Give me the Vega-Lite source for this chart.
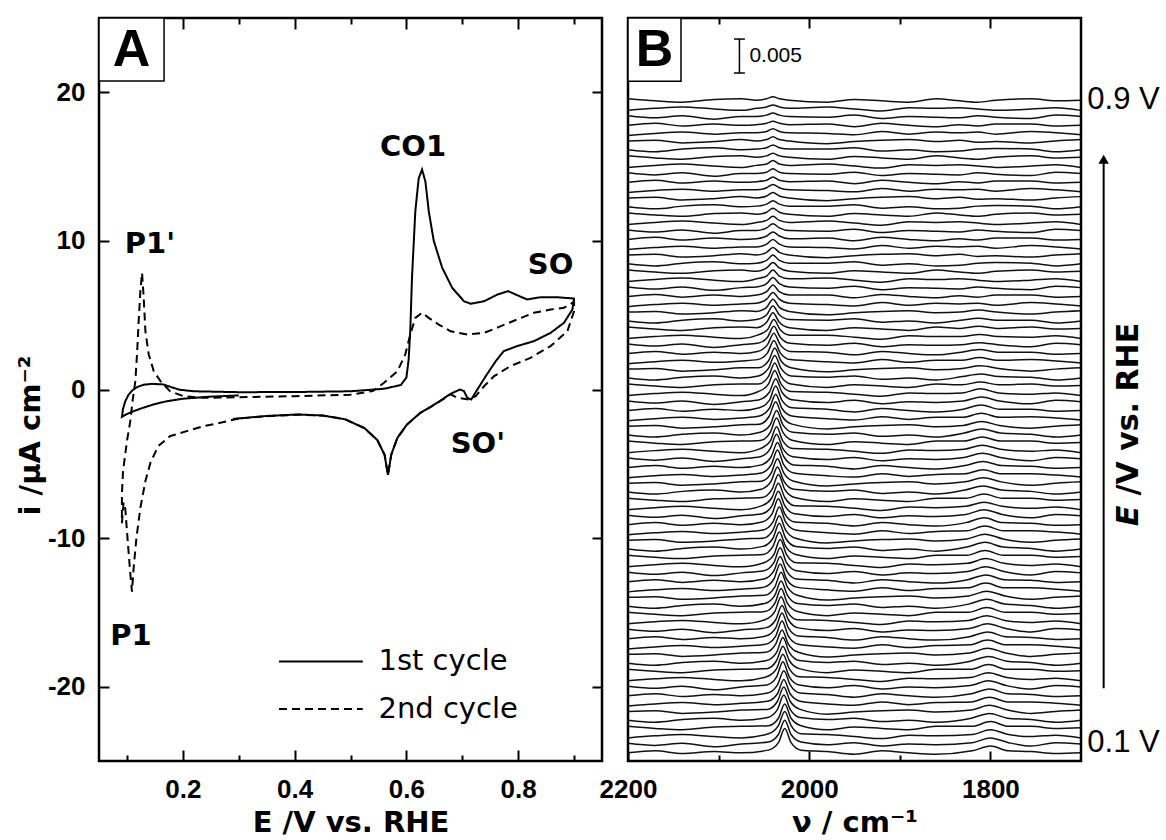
{
"$schema": "https://vega.github.io/schema/vega-lite/v6.json",
"background": "white",
"padding": {"left": 14, "top": 15, "right": 5, "bottom": 0},
"config": {
 "view": {"stroke": "black", "strokeWidth": 2.5},
 "axis": {"domain": false, "grid": false, "tickColor": "black", "tickWidth": 2, "labelColor": "black", "titleColor": "black", "labelFont": "Liberation Sans", "titleFont": "DejaVu Sans", "labelFontSize": 26, "labelFontWeight": "bold", "titleFontSize": 29, "titleFontWeight": "bold", "labelFlush": false, "labelOverlap": false},
 "text": {"font": "Liberation Sans", "color": "black"}
},
"spacing": 26,
"bounds": "flush",
"hconcat": [
{
 "width": 503, "height": 743,
 "resolve": {"axis": {"x": "independent", "y": "independent"}},
 "layer": [
 {
  "data": {"values": [
{"c":"1st cycle","o":1,"E":0.300,"i":-0.40},{"c":"1st cycle","o":2,"E":0.250,"i":-0.48},{"c":"1st cycle","o":3,"E":0.200,"i":-0.62},{"c":"1st cycle","o":4,"E":0.170,"i":-0.80},{"c":"1st cycle","o":5,"E":0.148,"i":-1.00},{"c":"1st cycle","o":6,"E":0.125,"i":-1.28},{"c":"1st cycle","o":7,"E":0.112,"i":-1.46},{"c":"1st cycle","o":8,"E":0.100,"i":-1.65},{"c":"1st cycle","o":9,"E":0.091,"i":-1.84},{"c":"1st cycle","o":10,"E":0.093,"i":-1.30},
{"c":"1st cycle","o":11,"E":0.097,"i":-0.79},{"c":"1st cycle","o":12,"E":0.103,"i":-0.34},{"c":"1st cycle","o":13,"E":0.110,"i":-0.05},{"c":"1st cycle","o":14,"E":0.118,"i":0.16},{"c":"1st cycle","o":15,"E":0.130,"i":0.32},{"c":"1st cycle","o":16,"E":0.145,"i":0.38},{"c":"1st cycle","o":17,"E":0.165,"i":0.34},{"c":"1st cycle","o":18,"E":0.180,"i":0.15},{"c":"1st cycle","o":19,"E":0.195,"i":-0.02},{"c":"1st cycle","o":20,"E":0.220,"i":-0.12},
{"c":"1st cycle","o":21,"E":0.300,"i":-0.18},{"c":"1st cycle","o":22,"E":0.400,"i":-0.17},{"c":"1st cycle","o":23,"E":0.500,"i":-0.12},{"c":"1st cycle","o":24,"E":0.560,"i":0.05},{"c":"1st cycle","o":25,"E":0.590,"i":0.30},{"c":"1st cycle","o":26,"E":0.600,"i":0.80},{"c":"1st cycle","o":27,"E":0.604,"i":2.00},{"c":"1st cycle","o":28,"E":0.607,"i":4.00},{"c":"1st cycle","o":29,"E":0.610,"i":7.50},{"c":"1st cycle","o":30,"E":0.616,"i":12.00},
{"c":"1st cycle","o":31,"E":0.622,"i":14.20},{"c":"1st cycle","o":32,"E":0.628,"i":14.80},{"c":"1st cycle","o":33,"E":0.634,"i":14.00},{"c":"1st cycle","o":34,"E":0.640,"i":12.00},{"c":"1st cycle","o":35,"E":0.649,"i":10.00},{"c":"1st cycle","o":36,"E":0.664,"i":8.20},{"c":"1st cycle","o":37,"E":0.682,"i":6.84},{"c":"1st cycle","o":38,"E":0.703,"i":5.94},{"c":"1st cycle","o":39,"E":0.715,"i":5.77},{"c":"1st cycle","o":40,"E":0.739,"i":5.94},
{"c":"1st cycle","o":41,"E":0.763,"i":6.39},{"c":"1st cycle","o":42,"E":0.782,"i":6.62},{"c":"1st cycle","o":43,"E":0.798,"i":6.35},{"c":"1st cycle","o":44,"E":0.816,"i":6.06},{"c":"1st cycle","o":45,"E":0.840,"i":6.21},{"c":"1st cycle","o":46,"E":0.870,"i":6.21},{"c":"1st cycle","o":47,"E":0.900,"i":6.12},{"c":"1st cycle","o":48,"E":0.897,"i":5.38},{"c":"1st cycle","o":49,"E":0.882,"i":4.49},{"c":"1st cycle","o":50,"E":0.858,"i":3.81},
{"c":"1st cycle","o":51,"E":0.828,"i":3.25},{"c":"1st cycle","o":52,"E":0.798,"i":2.92},{"c":"1st cycle","o":53,"E":0.774,"i":2.58},{"c":"1st cycle","o":54,"E":0.760,"i":1.91},{"c":"1st cycle","o":55,"E":0.742,"i":0.90},{"c":"1st cycle","o":56,"E":0.727,"i":0.00},{"c":"1st cycle","o":57,"E":0.716,"i":-0.67},{"c":"1st cycle","o":58,"E":0.709,"i":-0.56},{"c":"1st cycle","o":59,"E":0.703,"i":-0.11},{"c":"1st cycle","o":60,"E":0.696,"i":0.00},
{"c":"1st cycle","o":61,"E":0.679,"i":-0.29},{"c":"1st cycle","o":62,"E":0.655,"i":-0.90},{"c":"1st cycle","o":63,"E":0.625,"i":-1.57},{"c":"1st cycle","o":64,"E":0.601,"i":-2.36},{"c":"1st cycle","o":65,"E":0.584,"i":-3.25},{"c":"1st cycle","o":66,"E":0.573,"i":-4.37},{"c":"1st cycle","o":67,"E":0.567,"i":-5.75},{"c":"1st cycle","o":68,"E":0.561,"i":-4.40},{"c":"1st cycle","o":69,"E":0.548,"i":-3.40},{"c":"1st cycle","o":70,"E":0.525,"i":-2.60},
{"c":"1st cycle","o":71,"E":0.490,"i":-2.00},{"c":"1st cycle","o":72,"E":0.450,"i":-1.75},{"c":"1st cycle","o":73,"E":0.406,"i":-1.68},{"c":"1st cycle","o":74,"E":0.350,"i":-1.78},{"c":"1st cycle","o":75,"E":0.290,"i":-1.98},
{"c":"2nd cycle","o":1,"E":0.300,"i":-1.95},{"c":"2nd cycle","o":2,"E":0.267,"i":-2.24},{"c":"2nd cycle","o":3,"E":0.237,"i":-2.47},{"c":"2nd cycle","o":4,"E":0.207,"i":-2.80},{"c":"2nd cycle","o":5,"E":0.177,"i":-3.14},{"c":"2nd cycle","o":6,"E":0.156,"i":-3.81},{"c":"2nd cycle","o":7,"E":0.142,"i":-4.93},{"c":"2nd cycle","o":8,"E":0.133,"i":-6.17},{"c":"2nd cycle","o":9,"E":0.124,"i":-7.96},{"c":"2nd cycle","o":10,"E":0.117,"i":-9.98},
{"c":"2nd cycle","o":11,"E":0.112,"i":-12.00},{"c":"2nd cycle","o":12,"E":0.109,"i":-13.60},{"c":"2nd cycle","o":13,"E":0.106,"i":-12.40},{"c":"2nd cycle","o":14,"E":0.101,"i":-10.00},{"c":"2nd cycle","o":15,"E":0.097,"i":-8.00},{"c":"2nd cycle","o":16,"E":0.094,"i":-7.60},{"c":"2nd cycle","o":17,"E":0.091,"i":-9.00},{"c":"2nd cycle","o":18,"E":0.091,"i":-7.00},{"c":"2nd cycle","o":19,"E":0.093,"i":-5.50},{"c":"2nd cycle","o":20,"E":0.100,"i":-3.48},
{"c":"2nd cycle","o":21,"E":0.106,"i":-2.13},{"c":"2nd cycle","o":22,"E":0.110,"i":-0.79},{"c":"2nd cycle","o":23,"E":0.115,"i":0.56},{"c":"2nd cycle","o":24,"E":0.118,"i":2.36},{"c":"2nd cycle","o":25,"E":0.121,"i":4.60},{"c":"2nd cycle","o":26,"E":0.124,"i":6.60},{"c":"2nd cycle","o":27,"E":0.127,"i":7.85},{"c":"2nd cycle","o":28,"E":0.130,"i":6.17},{"c":"2nd cycle","o":29,"E":0.133,"i":3.92},{"c":"2nd cycle","o":30,"E":0.139,"i":2.36},
{"c":"2nd cycle","o":31,"E":0.148,"i":1.23},{"c":"2nd cycle","o":32,"E":0.160,"i":0.56},{"c":"2nd cycle","o":33,"E":0.177,"i":-0.11},{"c":"2nd cycle","o":34,"E":0.201,"i":-0.45},{"c":"2nd cycle","o":35,"E":0.237,"i":-0.56},{"c":"2nd cycle","o":36,"E":0.300,"i":-0.52},{"c":"2nd cycle","o":37,"E":0.400,"i":-0.45},{"c":"2nd cycle","o":38,"E":0.500,"i":-0.35},{"c":"2nd cycle","o":39,"E":0.540,"i":-0.10},{"c":"2nd cycle","o":40,"E":0.560,"i":0.45},
{"c":"2nd cycle","o":41,"E":0.584,"i":1.23},{"c":"2nd cycle","o":42,"E":0.598,"i":2.36},{"c":"2nd cycle","o":43,"E":0.607,"i":3.70},{"c":"2nd cycle","o":44,"E":0.616,"i":4.82},{"c":"2nd cycle","o":45,"E":0.628,"i":5.16},{"c":"2nd cycle","o":46,"E":0.640,"i":4.82},{"c":"2nd cycle","o":47,"E":0.658,"i":4.37},{"c":"2nd cycle","o":48,"E":0.679,"i":3.92},{"c":"2nd cycle","o":49,"E":0.709,"i":3.70},{"c":"2nd cycle","o":50,"E":0.739,"i":3.81},
{"c":"2nd cycle","o":51,"E":0.769,"i":4.26},{"c":"2nd cycle","o":52,"E":0.798,"i":4.71},{"c":"2nd cycle","o":53,"E":0.828,"i":5.16},{"c":"2nd cycle","o":54,"E":0.858,"i":5.38},{"c":"2nd cycle","o":55,"E":0.882,"i":5.50},{"c":"2nd cycle","o":56,"E":0.900,"i":5.90},{"c":"2nd cycle","o":57,"E":0.900,"i":5.27},{"c":"2nd cycle","o":58,"E":0.888,"i":3.92},{"c":"2nd cycle","o":59,"E":0.858,"i":2.92},{"c":"2nd cycle","o":60,"E":0.822,"i":2.13},
{"c":"2nd cycle","o":61,"E":0.786,"i":1.57},{"c":"2nd cycle","o":62,"E":0.757,"i":0.90},{"c":"2nd cycle","o":63,"E":0.739,"i":0.22},{"c":"2nd cycle","o":64,"E":0.724,"i":-0.45},{"c":"2nd cycle","o":65,"E":0.712,"i":-0.67},{"c":"2nd cycle","o":66,"E":0.691,"i":-0.56},{"c":"2nd cycle","o":67,"E":0.679,"i":-0.32},{"c":"2nd cycle","o":68,"E":0.655,"i":-0.92},{"c":"2nd cycle","o":69,"E":0.625,"i":-1.57},{"c":"2nd cycle","o":70,"E":0.601,"i":-2.36},
{"c":"2nd cycle","o":71,"E":0.584,"i":-3.25},{"c":"2nd cycle","o":72,"E":0.573,"i":-4.37},{"c":"2nd cycle","o":73,"E":0.567,"i":-5.75},{"c":"2nd cycle","o":74,"E":0.561,"i":-4.40},{"c":"2nd cycle","o":75,"E":0.548,"i":-3.40},{"c":"2nd cycle","o":76,"E":0.525,"i":-2.60},{"c":"2nd cycle","o":77,"E":0.490,"i":-2.00},{"c":"2nd cycle","o":78,"E":0.450,"i":-1.75},{"c":"2nd cycle","o":79,"E":0.406,"i":-1.70},{"c":"2nd cycle","o":80,"E":0.350,"i":-1.80},{"c":"2nd cycle","o":81,"E":0.300,"i":-1.95}
  ]},
  "mark": {"type": "line", "color": "black", "strokeWidth": 2},
  "encoding": {
   "x": {"field": "E", "type": "quantitative", "scale": {"domain": [0.05, 0.95], "nice": false, "zero": false}, "axis": {"orient": "bottom", "values": [0.2, 0.4, 0.6, 0.8], "format": ".1f", "tickSize": -11, "labelPadding": 26, "title": "E  /V vs. RHE", "titlePadding": 6}},
   "y": {"field": "i", "type": "quantitative", "scale": {"domain": [-25, 25], "nice": false, "zero": false}, "axis": {"orient": "left", "values": [-20, -10, 0, 10, 20], "tickSize": -10, "labelPadding": 24, "labelExpr": "'' + datum.value", "title": "i /μA cm⁻²", "titleFontSize": 29, "titleX": -54, "titleY": 417}},
   "order": {"field": "o", "type": "quantitative"},
   "strokeDash": {"field": "c", "type": "nominal", "scale": {"domain": ["1st cycle", "2nd cycle"], "range": [[1, 0], [8, 5]]}, "legend": null}
  }
 },
 {
  "data": {"values": [{"t":"CO1","E":0.612,"i":16.3},{"t":"P1'","E":0.141,"i":9.76},{"t":"SO","E":0.858,"i":8.4},{"t":"SO'","E":0.728,"i":-3.67},{"t":"P1","E":0.107,"i":-16.6}]},
  "mark": {"type": "text", "font": "DejaVu Sans", "fontSize": 29, "fontWeight": "bold", "align": "center", "baseline": "middle"},
  "encoding": {
   "x": {"field": "E", "type": "quantitative", "scale": {"domain": [0.05, 0.95], "nice": false, "zero": false}, "axis": {"orient": "bottom", "values": [0.1, 0.3, 0.5, 0.7, 0.9], "tickSize": -6, "labels": false, "title": null}},
   "y": {"field": "i", "type": "quantitative", "scale": {"domain": [-25, 25], "nice": false, "zero": false}, "axis": {"orient": "right", "values": [-20, -10, 0, 10, 20], "tickSize": -10, "labels": false, "title": null}},
   "text": {"field": "t"}
  }
 },
 {
  "data": {"values": [{"c":"1st cycle","E":0.372,"E2":0.522,"i":-18.3},{"c":"2nd cycle","E":0.372,"E2":0.522,"i":-21.5}]},
  "mark": {"type": "rule", "color": "black", "strokeWidth": 2},
  "encoding": {
   "x": {"field": "E", "type": "quantitative", "scale": {"domain": [0.05, 0.95], "nice": false, "zero": false}, "axis": {"orient": "top", "values": [0.2, 0.4, 0.6, 0.8], "tickSize": -11, "labels": false, "title": null}},
   "x2": {"field": "E2"},
   "y": {"field": "i", "type": "quantitative", "scale": {"domain": [-25, 25], "nice": false, "zero": false}, "axis": null},
   "strokeDash": {"field": "c", "type": "nominal", "scale": {"domain": ["1st cycle", "2nd cycle"], "range": [[1, 0], [8, 5]]}, "legend": null}
  }
 },
 {
  "data": {"values": [{"c":"1st cycle","E":0.550,"i":-18.3},{"c":"2nd cycle","E":0.550,"i":-21.5}]},
  "mark": {"type": "text", "font": "DejaVu Sans", "fontSize": 29, "align": "left", "baseline": "middle"},
  "encoding": {
   "x": {"field": "E", "type": "quantitative", "scale": {"domain": [0.05, 0.95], "nice": false, "zero": false}, "axis": {"orient": "top", "values": [0.1, 0.3, 0.5, 0.7, 0.9], "tickSize": -6, "labels": false, "title": null}},
   "y": {"field": "i", "type": "quantitative", "scale": {"domain": [-25, 25], "nice": false, "zero": false}, "axis": null},
   "text": {"field": "c"}
  }
 },
 {
  "data": {"values": [{"E":0.05,"E2":0.1664,"i":25,"i2":20.76}]},
  "mark": {"type": "rect", "fill": "white", "stroke": "black", "strokeWidth": 1.5},
  "encoding": {
   "x": {"field": "E", "type": "quantitative", "scale": {"domain": [0.05, 0.95], "nice": false, "zero": false}, "axis": null},
   "x2": {"field": "E2"},
   "y": {"field": "i", "type": "quantitative", "scale": {"domain": [-25, 25], "nice": false, "zero": false}, "axis": null},
   "y2": {"field": "i2"}
  }
 },
 {
  "data": {"values": [{"t":"A","E":0.108,"i":22.88}]},
  "mark": {"type": "text", "fontSize": 52, "fontWeight": "bold", "align": "center", "baseline": "middle"},
  "encoding": {
   "x": {"field": "E", "type": "quantitative", "scale": {"domain": [0.05, 0.95], "nice": false, "zero": false}, "axis": null},
   "y": {"field": "i", "type": "quantitative", "scale": {"domain": [-25, 25], "nice": false, "zero": false}, "axis": null},
   "text": {"field": "t"}
  }
 }
 ]
},
{
 "width": 453, "height": 743,
 "resolve": {"axis": {"x": "independent", "y": "independent"}},
 "layer": [
 {
  "data": {"values": [
{"k":0,"w":2200,"a":0},{"k":0,"w":2170,"a":3},{"k":0,"w":2140,"a":-1},{"k":0,"w":2105,"a":2},{"k":0,"w":2075,"a":0},{"k":0,"w":2045,"a":4},{"k":0,"w":2034,"a":15},{"k":0,"w":2027,"a":36},{"k":0,"w":2020,"a":15},{"k":0,"w":2009,"a":4},{"k":0,"w":1980,"a":2},{"k":0,"w":1950,"a":-2},{"k":0,"w":1920,"a":3},{"k":0,"w":1890,"a":0},{"k":0,"w":1860,"a":-2},{"k":0,"w":1820,"a":3},{"k":0,"w":1800,"a":10},{"k":0,"w":1780,"a":3},{"k":0,"w":1755,"a":2},{"k":0,"w":1728,"a":-1},{"k":0,"w":1700,"a":0},
{"k":1,"w":2200,"a":14},{"k":1,"w":2170,"a":11},{"k":1,"w":2140,"a":14},{"k":1,"w":2105,"a":9},{"k":1,"w":2075,"a":13},{"k":1,"w":2045,"a":16},{"k":1,"w":2034,"a":27},{"k":1,"w":2027,"a":48},{"k":1,"w":2020,"a":27},{"k":1,"w":2009,"a":16},{"k":1,"w":1980,"a":12},{"k":1,"w":1950,"a":15},{"k":1,"w":1920,"a":10},{"k":1,"w":1890,"a":13},{"k":1,"w":1860,"a":12},{"k":1,"w":1820,"a":15},{"k":1,"w":1800,"a":22},{"k":1,"w":1780,"a":15},{"k":1,"w":1755,"a":10},{"k":1,"w":1728,"a":15},{"k":1,"w":1700,"a":13},
{"k":2,"w":2200,"a":22},{"k":2,"w":2170,"a":25},{"k":2,"w":2140,"a":27},{"k":2,"w":2105,"a":24},{"k":2,"w":2075,"a":22},{"k":2,"w":2045,"a":28},{"k":2,"w":2034,"a":40},{"k":2,"w":2027,"a":61},{"k":2,"w":2020,"a":40},{"k":2,"w":2009,"a":28},{"k":2,"w":1980,"a":27},{"k":2,"w":1950,"a":24},{"k":2,"w":1920,"a":21},{"k":2,"w":1890,"a":26},{"k":2,"w":1860,"a":25},{"k":2,"w":1820,"a":27},{"k":2,"w":1800,"a":34},{"k":2,"w":1780,"a":27},{"k":2,"w":1755,"a":24},{"k":2,"w":1728,"a":26},{"k":2,"w":1700,"a":22},
{"k":3,"w":2200,"a":39},{"k":3,"w":2170,"a":36},{"k":3,"w":2140,"a":34},{"k":3,"w":2105,"a":38},{"k":3,"w":2075,"a":39},{"k":3,"w":2045,"a":40},{"k":3,"w":2034,"a":51},{"k":3,"w":2027,"a":72},{"k":3,"w":2020,"a":51},{"k":3,"w":2009,"a":40},{"k":3,"w":1980,"a":34},{"k":3,"w":1950,"a":38},{"k":3,"w":1920,"a":36},{"k":3,"w":1890,"a":34},{"k":3,"w":1860,"a":39},{"k":3,"w":1820,"a":39},{"k":3,"w":1800,"a":46},{"k":3,"w":1780,"a":39},{"k":3,"w":1755,"a":39},{"k":3,"w":1728,"a":36},{"k":3,"w":1700,"a":37},
{"k":4,"w":2200,"a":48},{"k":4,"w":2170,"a":45},{"k":4,"w":2140,"a":49},{"k":4,"w":2105,"a":51},{"k":4,"w":2075,"a":48},{"k":4,"w":2046,"a":52},{"k":4,"w":2035,"a":64},{"k":4,"w":2028,"a":85},{"k":4,"w":2021,"a":64},{"k":4,"w":2010,"a":52},{"k":4,"w":1980,"a":49},{"k":4,"w":1950,"a":51},{"k":4,"w":1920,"a":46},{"k":4,"w":1890,"a":48},{"k":4,"w":1860,"a":45},{"k":4,"w":1821,"a":51},{"k":4,"w":1801,"a":58},{"k":4,"w":1781,"a":51},{"k":4,"w":1755,"a":49},{"k":4,"w":1728,"a":45},{"k":4,"w":1700,"a":48},
{"k":5,"w":2200,"a":61},{"k":5,"w":2170,"a":62},{"k":5,"w":2140,"a":58},{"k":5,"w":2105,"a":60},{"k":5,"w":2075,"a":63},{"k":5,"w":2046,"a":64},{"k":5,"w":2035,"a":76},{"k":5,"w":2028,"a":97},{"k":5,"w":2021,"a":76},{"k":5,"w":2010,"a":64},{"k":5,"w":1980,"a":57},{"k":5,"w":1950,"a":60},{"k":5,"w":1920,"a":62},{"k":5,"w":1890,"a":63},{"k":5,"w":1860,"a":60},{"k":5,"w":1821,"a":63},{"k":5,"w":1801,"a":70},{"k":5,"w":1781,"a":63},{"k":5,"w":1755,"a":58},{"k":5,"w":1728,"a":61},{"k":5,"w":1700,"a":63},
{"k":6,"w":2200,"a":69},{"k":6,"w":2170,"a":72},{"k":6,"w":2140,"a":74},{"k":6,"w":2105,"a":71},{"k":6,"w":2075,"a":73},{"k":6,"w":2046,"a":76},{"k":6,"w":2035,"a":87},{"k":6,"w":2028,"a":108},{"k":6,"w":2021,"a":87},{"k":6,"w":2010,"a":76},{"k":6,"w":1980,"a":72},{"k":6,"w":1950,"a":70},{"k":6,"w":1920,"a":75},{"k":6,"w":1890,"a":71},{"k":6,"w":1860,"a":74},{"k":6,"w":1821,"a":75},{"k":6,"w":1801,"a":82},{"k":6,"w":1781,"a":75},{"k":6,"w":1755,"a":75},{"k":6,"w":1728,"a":73},{"k":6,"w":1700,"a":70},
{"k":7,"w":2200,"a":84},{"k":7,"w":2170,"a":87},{"k":7,"w":2140,"a":83},{"k":7,"w":2105,"a":86},{"k":7,"w":2075,"a":84},{"k":7,"w":2046,"a":88},{"k":7,"w":2035,"a":100},{"k":7,"w":2028,"a":121},{"k":7,"w":2021,"a":100},{"k":7,"w":2010,"a":88},{"k":7,"w":1980,"a":86},{"k":7,"w":1950,"a":82},{"k":7,"w":1920,"a":87},{"k":7,"w":1890,"a":84},{"k":7,"w":1860,"a":82},{"k":7,"w":1821,"a":87},{"k":7,"w":1801,"a":94},{"k":7,"w":1781,"a":87},{"k":7,"w":1755,"a":86},{"k":7,"w":1728,"a":83},{"k":7,"w":1700,"a":84},
{"k":8,"w":2200,"a":98},{"k":8,"w":2170,"a":95},{"k":8,"w":2140,"a":98},{"k":8,"w":2105,"a":93},{"k":8,"w":2075,"a":97},{"k":8,"w":2047,"a":100},{"k":8,"w":2036,"a":112},{"k":8,"w":2029,"a":134},{"k":8,"w":2022,"a":112},{"k":8,"w":2011,"a":100},{"k":8,"w":1980,"a":96},{"k":8,"w":1950,"a":99},{"k":8,"w":1920,"a":94},{"k":8,"w":1890,"a":97},{"k":8,"w":1860,"a":96},{"k":8,"w":1822,"a":99},{"k":8,"w":1802,"a":106},{"k":8,"w":1782,"a":99},{"k":8,"w":1755,"a":94},{"k":8,"w":1728,"a":99},{"k":8,"w":1700,"a":97},
{"k":9,"w":2200,"a":106},{"k":9,"w":2170,"a":109},{"k":9,"w":2140,"a":111},{"k":9,"w":2105,"a":108},{"k":9,"w":2075,"a":106},{"k":9,"w":2047,"a":112},{"k":9,"w":2036,"a":124},{"k":9,"w":2029,"a":145},{"k":9,"w":2022,"a":124},{"k":9,"w":2011,"a":112},{"k":9,"w":1980,"a":111},{"k":9,"w":1950,"a":108},{"k":9,"w":1920,"a":105},{"k":9,"w":1890,"a":110},{"k":9,"w":1860,"a":109},{"k":9,"w":1822,"a":111},{"k":9,"w":1802,"a":118},{"k":9,"w":1782,"a":111},{"k":9,"w":1755,"a":108},{"k":9,"w":1728,"a":110},{"k":9,"w":1700,"a":106},
{"k":10,"w":2200,"a":123},{"k":10,"w":2170,"a":120},{"k":10,"w":2140,"a":118},{"k":10,"w":2105,"a":122},{"k":10,"w":2075,"a":123},{"k":10,"w":2047,"a":124},{"k":10,"w":2036,"a":136},{"k":10,"w":2029,"a":157},{"k":10,"w":2022,"a":136},{"k":10,"w":2011,"a":124},{"k":10,"w":1980,"a":118},{"k":10,"w":1950,"a":122},{"k":10,"w":1920,"a":120},{"k":10,"w":1890,"a":118},{"k":10,"w":1860,"a":123},{"k":10,"w":1822,"a":123},{"k":10,"w":1802,"a":130},{"k":10,"w":1782,"a":123},{"k":10,"w":1755,"a":123},{"k":10,"w":1728,"a":120},{"k":10,"w":1700,"a":121},
{"k":11,"w":2200,"a":132},{"k":11,"w":2170,"a":129},{"k":11,"w":2140,"a":133},{"k":11,"w":2105,"a":135},{"k":11,"w":2075,"a":132},{"k":11,"w":2047,"a":136},{"k":11,"w":2036,"a":148},{"k":11,"w":2029,"a":170},{"k":11,"w":2022,"a":148},{"k":11,"w":2011,"a":136},{"k":11,"w":1980,"a":133},{"k":11,"w":1950,"a":135},{"k":11,"w":1920,"a":130},{"k":11,"w":1890,"a":132},{"k":11,"w":1860,"a":129},{"k":11,"w":1822,"a":135},{"k":11,"w":1802,"a":142},{"k":11,"w":1782,"a":135},{"k":11,"w":1755,"a":133},{"k":11,"w":1728,"a":129},{"k":11,"w":1700,"a":132},
{"k":12,"w":2200,"a":145},{"k":12,"w":2170,"a":146},{"k":12,"w":2140,"a":142},{"k":12,"w":2105,"a":144},{"k":12,"w":2075,"a":147},{"k":12,"w":2048,"a":148},{"k":12,"w":2037,"a":160},{"k":12,"w":2030,"a":181},{"k":12,"w":2023,"a":160},{"k":12,"w":2012,"a":148},{"k":12,"w":1980,"a":141},{"k":12,"w":1950,"a":144},{"k":12,"w":1920,"a":146},{"k":12,"w":1890,"a":147},{"k":12,"w":1860,"a":144},{"k":12,"w":1823,"a":147},{"k":12,"w":1803,"a":154},{"k":12,"w":1783,"a":147},{"k":12,"w":1755,"a":142},{"k":12,"w":1728,"a":145},{"k":12,"w":1700,"a":147},
{"k":13,"w":2200,"a":153},{"k":13,"w":2170,"a":156},{"k":13,"w":2140,"a":158},{"k":13,"w":2105,"a":155},{"k":13,"w":2075,"a":157},{"k":13,"w":2048,"a":160},{"k":13,"w":2037,"a":172},{"k":13,"w":2030,"a":194},{"k":13,"w":2023,"a":172},{"k":13,"w":2012,"a":160},{"k":13,"w":1980,"a":156},{"k":13,"w":1950,"a":154},{"k":13,"w":1920,"a":159},{"k":13,"w":1890,"a":155},{"k":13,"w":1860,"a":158},{"k":13,"w":1823,"a":159},{"k":13,"w":1803,"a":166},{"k":13,"w":1783,"a":159},{"k":13,"w":1755,"a":159},{"k":13,"w":1728,"a":157},{"k":13,"w":1700,"a":154},
{"k":14,"w":2200,"a":168},{"k":14,"w":2170,"a":171},{"k":14,"w":2140,"a":167},{"k":14,"w":2105,"a":170},{"k":14,"w":2075,"a":168},{"k":14,"w":2048,"a":172},{"k":14,"w":2037,"a":184},{"k":14,"w":2030,"a":206},{"k":14,"w":2023,"a":184},{"k":14,"w":2012,"a":172},{"k":14,"w":1980,"a":170},{"k":14,"w":1950,"a":166},{"k":14,"w":1920,"a":171},{"k":14,"w":1890,"a":168},{"k":14,"w":1860,"a":166},{"k":14,"w":1823,"a":171},{"k":14,"w":1803,"a":178},{"k":14,"w":1783,"a":171},{"k":14,"w":1755,"a":170},{"k":14,"w":1728,"a":167},{"k":14,"w":1700,"a":168},
{"k":15,"w":2200,"a":182},{"k":15,"w":2170,"a":179},{"k":15,"w":2140,"a":182},{"k":15,"w":2105,"a":177},{"k":15,"w":2075,"a":181},{"k":15,"w":2048,"a":184},{"k":15,"w":2037,"a":196},{"k":15,"w":2030,"a":217},{"k":15,"w":2023,"a":196},{"k":15,"w":2012,"a":184},{"k":15,"w":1980,"a":180},{"k":15,"w":1950,"a":183},{"k":15,"w":1920,"a":178},{"k":15,"w":1890,"a":181},{"k":15,"w":1860,"a":180},{"k":15,"w":1823,"a":183},{"k":15,"w":1803,"a":190},{"k":15,"w":1783,"a":183},{"k":15,"w":1755,"a":178},{"k":15,"w":1728,"a":183},{"k":15,"w":1700,"a":181},
{"k":16,"w":2200,"a":190},{"k":16,"w":2170,"a":193},{"k":16,"w":2140,"a":195},{"k":16,"w":2105,"a":192},{"k":16,"w":2075,"a":190},{"k":16,"w":2049,"a":196},{"k":16,"w":2038,"a":208},{"k":16,"w":2031,"a":230},{"k":16,"w":2024,"a":208},{"k":16,"w":2013,"a":196},{"k":16,"w":1980,"a":195},{"k":16,"w":1950,"a":192},{"k":16,"w":1920,"a":189},{"k":16,"w":1890,"a":194},{"k":16,"w":1860,"a":193},{"k":16,"w":1824,"a":195},{"k":16,"w":1804,"a":202},{"k":16,"w":1784,"a":195},{"k":16,"w":1755,"a":192},{"k":16,"w":1728,"a":194},{"k":16,"w":1700,"a":190},
{"k":17,"w":2200,"a":207},{"k":17,"w":2170,"a":204},{"k":17,"w":2140,"a":202},{"k":17,"w":2105,"a":206},{"k":17,"w":2075,"a":207},{"k":17,"w":2049,"a":208},{"k":17,"w":2038,"a":220},{"k":17,"w":2031,"a":242},{"k":17,"w":2024,"a":220},{"k":17,"w":2013,"a":208},{"k":17,"w":1980,"a":202},{"k":17,"w":1950,"a":206},{"k":17,"w":1920,"a":204},{"k":17,"w":1890,"a":202},{"k":17,"w":1860,"a":207},{"k":17,"w":1824,"a":207},{"k":17,"w":1804,"a":214},{"k":17,"w":1784,"a":207},{"k":17,"w":1755,"a":207},{"k":17,"w":1728,"a":204},{"k":17,"w":1700,"a":205},
{"k":18,"w":2200,"a":216},{"k":18,"w":2170,"a":213},{"k":18,"w":2140,"a":217},{"k":18,"w":2105,"a":219},{"k":18,"w":2075,"a":216},{"k":18,"w":2049,"a":220},{"k":18,"w":2038,"a":232},{"k":18,"w":2031,"a":253},{"k":18,"w":2024,"a":232},{"k":18,"w":2013,"a":220},{"k":18,"w":1980,"a":217},{"k":18,"w":1950,"a":219},{"k":18,"w":1920,"a":214},{"k":18,"w":1890,"a":216},{"k":18,"w":1860,"a":213},{"k":18,"w":1824,"a":219},{"k":18,"w":1804,"a":226},{"k":18,"w":1784,"a":219},{"k":18,"w":1755,"a":217},{"k":18,"w":1728,"a":213},{"k":18,"w":1700,"a":216},
{"k":19,"w":2200,"a":229},{"k":19,"w":2170,"a":230},{"k":19,"w":2140,"a":226},{"k":19,"w":2105,"a":228},{"k":19,"w":2075,"a":231},{"k":19,"w":2049,"a":232},{"k":19,"w":2038,"a":244},{"k":19,"w":2031,"a":266},{"k":19,"w":2024,"a":244},{"k":19,"w":2013,"a":232},{"k":19,"w":1980,"a":225},{"k":19,"w":1950,"a":228},{"k":19,"w":1920,"a":230},{"k":19,"w":1890,"a":231},{"k":19,"w":1860,"a":228},{"k":19,"w":1824,"a":231},{"k":19,"w":1804,"a":238},{"k":19,"w":1784,"a":231},{"k":19,"w":1755,"a":226},{"k":19,"w":1728,"a":229},{"k":19,"w":1700,"a":231},
{"k":20,"w":2200,"a":237},{"k":20,"w":2170,"a":240},{"k":20,"w":2140,"a":242},{"k":20,"w":2105,"a":239},{"k":20,"w":2075,"a":241},{"k":20,"w":2050,"a":244},{"k":20,"w":2039,"a":256},{"k":20,"w":2032,"a":278},{"k":20,"w":2025,"a":256},{"k":20,"w":2014,"a":244},{"k":20,"w":1980,"a":240},{"k":20,"w":1950,"a":238},{"k":20,"w":1920,"a":243},{"k":20,"w":1890,"a":239},{"k":20,"w":1860,"a":242},{"k":20,"w":1825,"a":243},{"k":20,"w":1805,"a":250},{"k":20,"w":1785,"a":243},{"k":20,"w":1755,"a":243},{"k":20,"w":1728,"a":241},{"k":20,"w":1700,"a":238},
{"k":21,"w":2200,"a":252},{"k":21,"w":2170,"a":255},{"k":21,"w":2140,"a":251},{"k":21,"w":2105,"a":254},{"k":21,"w":2075,"a":252},{"k":21,"w":2050,"a":256},{"k":21,"w":2039,"a":268},{"k":21,"w":2032,"a":289},{"k":21,"w":2025,"a":268},{"k":21,"w":2014,"a":256},{"k":21,"w":1980,"a":254},{"k":21,"w":1950,"a":250},{"k":21,"w":1920,"a":255},{"k":21,"w":1890,"a":252},{"k":21,"w":1860,"a":250},{"k":21,"w":1825,"a":255},{"k":21,"w":1805,"a":262},{"k":21,"w":1785,"a":255},{"k":21,"w":1755,"a":254},{"k":21,"w":1728,"a":251},{"k":21,"w":1700,"a":252},
{"k":22,"w":2200,"a":266},{"k":22,"w":2170,"a":263},{"k":22,"w":2140,"a":266},{"k":22,"w":2105,"a":261},{"k":22,"w":2075,"a":265},{"k":22,"w":2050,"a":268},{"k":22,"w":2039,"a":280},{"k":22,"w":2032,"a":302},{"k":22,"w":2025,"a":280},{"k":22,"w":2014,"a":268},{"k":22,"w":1980,"a":264},{"k":22,"w":1950,"a":267},{"k":22,"w":1920,"a":262},{"k":22,"w":1890,"a":265},{"k":22,"w":1860,"a":264},{"k":22,"w":1825,"a":267},{"k":22,"w":1805,"a":274},{"k":22,"w":1785,"a":267},{"k":22,"w":1755,"a":262},{"k":22,"w":1728,"a":267},{"k":22,"w":1700,"a":265},
{"k":23,"w":2200,"a":274},{"k":23,"w":2170,"a":277},{"k":23,"w":2140,"a":279},{"k":23,"w":2105,"a":276},{"k":23,"w":2075,"a":274},{"k":23,"w":2050,"a":280},{"k":23,"w":2039,"a":292},{"k":23,"w":2032,"a":314},{"k":23,"w":2025,"a":292},{"k":23,"w":2014,"a":280},{"k":23,"w":1980,"a":279},{"k":23,"w":1950,"a":276},{"k":23,"w":1920,"a":273},{"k":23,"w":1890,"a":278},{"k":23,"w":1860,"a":277},{"k":23,"w":1825,"a":279},{"k":23,"w":1805,"a":286},{"k":23,"w":1785,"a":279},{"k":23,"w":1755,"a":276},{"k":23,"w":1728,"a":278},{"k":23,"w":1700,"a":274},
{"k":24,"w":2200,"a":291},{"k":24,"w":2170,"a":288},{"k":24,"w":2140,"a":286},{"k":24,"w":2105,"a":290},{"k":24,"w":2075,"a":291},{"k":24,"w":2051,"a":292},{"k":24,"w":2040,"a":304},{"k":24,"w":2033,"a":325},{"k":24,"w":2026,"a":304},{"k":24,"w":2015,"a":292},{"k":24,"w":1980,"a":286},{"k":24,"w":1950,"a":290},{"k":24,"w":1920,"a":288},{"k":24,"w":1890,"a":286},{"k":24,"w":1860,"a":291},{"k":24,"w":1826,"a":291},{"k":24,"w":1806,"a":298},{"k":24,"w":1786,"a":291},{"k":24,"w":1755,"a":291},{"k":24,"w":1728,"a":288},{"k":24,"w":1700,"a":289},
{"k":25,"w":2200,"a":300},{"k":25,"w":2170,"a":297},{"k":25,"w":2140,"a":301},{"k":25,"w":2105,"a":303},{"k":25,"w":2075,"a":300},{"k":25,"w":2051,"a":304},{"k":25,"w":2040,"a":316},{"k":25,"w":2033,"a":338},{"k":25,"w":2026,"a":316},{"k":25,"w":2015,"a":304},{"k":25,"w":1980,"a":301},{"k":25,"w":1950,"a":303},{"k":25,"w":1920,"a":298},{"k":25,"w":1890,"a":300},{"k":25,"w":1860,"a":297},{"k":25,"w":1826,"a":303},{"k":25,"w":1806,"a":310},{"k":25,"w":1786,"a":303},{"k":25,"w":1755,"a":301},{"k":25,"w":1728,"a":297},{"k":25,"w":1700,"a":300},
{"k":26,"w":2200,"a":313},{"k":26,"w":2170,"a":314},{"k":26,"w":2140,"a":310},{"k":26,"w":2105,"a":312},{"k":26,"w":2075,"a":315},{"k":26,"w":2051,"a":316},{"k":26,"w":2040,"a":328},{"k":26,"w":2033,"a":349},{"k":26,"w":2026,"a":328},{"k":26,"w":2015,"a":316},{"k":26,"w":1980,"a":309},{"k":26,"w":1950,"a":312},{"k":26,"w":1920,"a":314},{"k":26,"w":1890,"a":315},{"k":26,"w":1860,"a":312},{"k":26,"w":1826,"a":315},{"k":26,"w":1806,"a":322},{"k":26,"w":1786,"a":315},{"k":26,"w":1755,"a":310},{"k":26,"w":1728,"a":313},{"k":26,"w":1700,"a":315},
{"k":27,"w":2200,"a":321},{"k":27,"w":2170,"a":324},{"k":27,"w":2140,"a":326},{"k":27,"w":2105,"a":323},{"k":27,"w":2075,"a":325},{"k":27,"w":2051,"a":328},{"k":27,"w":2040,"a":340},{"k":27,"w":2033,"a":362},{"k":27,"w":2026,"a":340},{"k":27,"w":2015,"a":328},{"k":27,"w":1980,"a":324},{"k":27,"w":1950,"a":322},{"k":27,"w":1920,"a":327},{"k":27,"w":1890,"a":323},{"k":27,"w":1860,"a":326},{"k":27,"w":1826,"a":327},{"k":27,"w":1806,"a":334},{"k":27,"w":1786,"a":327},{"k":27,"w":1755,"a":327},{"k":27,"w":1728,"a":325},{"k":27,"w":1700,"a":322},
{"k":28,"w":2200,"a":336},{"k":28,"w":2170,"a":339},{"k":28,"w":2140,"a":335},{"k":28,"w":2105,"a":338},{"k":28,"w":2075,"a":336},{"k":28,"w":2052,"a":340},{"k":28,"w":2041,"a":352},{"k":28,"w":2034,"a":374},{"k":28,"w":2027,"a":352},{"k":28,"w":2016,"a":340},{"k":28,"w":1980,"a":338},{"k":28,"w":1950,"a":334},{"k":28,"w":1920,"a":339},{"k":28,"w":1890,"a":336},{"k":28,"w":1860,"a":334},{"k":28,"w":1827,"a":339},{"k":28,"w":1807,"a":346},{"k":28,"w":1787,"a":339},{"k":28,"w":1755,"a":338},{"k":28,"w":1728,"a":335},{"k":28,"w":1700,"a":336},
{"k":29,"w":2200,"a":350},{"k":29,"w":2170,"a":347},{"k":29,"w":2140,"a":350},{"k":29,"w":2105,"a":345},{"k":29,"w":2075,"a":349},{"k":29,"w":2052,"a":352},{"k":29,"w":2041,"a":364},{"k":29,"w":2034,"a":385},{"k":29,"w":2027,"a":364},{"k":29,"w":2016,"a":352},{"k":29,"w":1980,"a":348},{"k":29,"w":1950,"a":351},{"k":29,"w":1920,"a":346},{"k":29,"w":1890,"a":349},{"k":29,"w":1860,"a":348},{"k":29,"w":1827,"a":351},{"k":29,"w":1807,"a":358},{"k":29,"w":1787,"a":351},{"k":29,"w":1755,"a":346},{"k":29,"w":1728,"a":351},{"k":29,"w":1700,"a":349},
{"k":30,"w":2200,"a":358},{"k":30,"w":2170,"a":361},{"k":30,"w":2140,"a":363},{"k":30,"w":2105,"a":360},{"k":30,"w":2075,"a":358},{"k":30,"w":2052,"a":364},{"k":30,"w":2041,"a":376},{"k":30,"w":2034,"a":397},{"k":30,"w":2027,"a":376},{"k":30,"w":2016,"a":364},{"k":30,"w":1980,"a":363},{"k":30,"w":1950,"a":360},{"k":30,"w":1920,"a":357},{"k":30,"w":1890,"a":362},{"k":30,"w":1860,"a":361},{"k":30,"w":1827,"a":363},{"k":30,"w":1807,"a":369},{"k":30,"w":1787,"a":363},{"k":30,"w":1755,"a":360},{"k":30,"w":1728,"a":362},{"k":30,"w":1700,"a":358},
{"k":31,"w":2200,"a":375},{"k":31,"w":2170,"a":372},{"k":31,"w":2140,"a":370},{"k":31,"w":2105,"a":374},{"k":31,"w":2075,"a":375},{"k":31,"w":2052,"a":376},{"k":31,"w":2041,"a":388},{"k":31,"w":2034,"a":410},{"k":31,"w":2027,"a":388},{"k":31,"w":2016,"a":376},{"k":31,"w":1980,"a":370},{"k":31,"w":1950,"a":374},{"k":31,"w":1920,"a":372},{"k":31,"w":1890,"a":370},{"k":31,"w":1860,"a":375},{"k":31,"w":1827,"a":375},{"k":31,"w":1807,"a":381},{"k":31,"w":1787,"a":375},{"k":31,"w":1755,"a":375},{"k":31,"w":1728,"a":372},{"k":31,"w":1700,"a":373},
{"k":32,"w":2200,"a":384},{"k":32,"w":2170,"a":381},{"k":32,"w":2140,"a":385},{"k":32,"w":2105,"a":387},{"k":32,"w":2075,"a":384},{"k":32,"w":2053,"a":388},{"k":32,"w":2042,"a":400},{"k":32,"w":2035,"a":421},{"k":32,"w":2028,"a":400},{"k":32,"w":2017,"a":388},{"k":32,"w":1980,"a":385},{"k":32,"w":1950,"a":387},{"k":32,"w":1920,"a":382},{"k":32,"w":1890,"a":384},{"k":32,"w":1860,"a":381},{"k":32,"w":1828,"a":387},{"k":32,"w":1808,"a":393},{"k":32,"w":1788,"a":387},{"k":32,"w":1755,"a":385},{"k":32,"w":1728,"a":381},{"k":32,"w":1700,"a":384},
{"k":33,"w":2200,"a":397},{"k":33,"w":2170,"a":398},{"k":33,"w":2140,"a":394},{"k":33,"w":2105,"a":396},{"k":33,"w":2075,"a":399},{"k":33,"w":2053,"a":400},{"k":33,"w":2042,"a":412},{"k":33,"w":2035,"a":433},{"k":33,"w":2028,"a":412},{"k":33,"w":2017,"a":400},{"k":33,"w":1980,"a":393},{"k":33,"w":1950,"a":396},{"k":33,"w":1920,"a":398},{"k":33,"w":1890,"a":399},{"k":33,"w":1860,"a":396},{"k":33,"w":1828,"a":399},{"k":33,"w":1808,"a":405},{"k":33,"w":1788,"a":399},{"k":33,"w":1755,"a":394},{"k":33,"w":1728,"a":397},{"k":33,"w":1700,"a":399},
{"k":34,"w":2200,"a":405},{"k":34,"w":2170,"a":408},{"k":34,"w":2140,"a":410},{"k":34,"w":2105,"a":407},{"k":34,"w":2075,"a":409},{"k":34,"w":2053,"a":412},{"k":34,"w":2042,"a":424},{"k":34,"w":2035,"a":446},{"k":34,"w":2028,"a":424},{"k":34,"w":2017,"a":412},{"k":34,"w":1980,"a":408},{"k":34,"w":1950,"a":406},{"k":34,"w":1920,"a":411},{"k":34,"w":1890,"a":407},{"k":34,"w":1860,"a":410},{"k":34,"w":1828,"a":411},{"k":34,"w":1808,"a":417},{"k":34,"w":1788,"a":411},{"k":34,"w":1755,"a":411},{"k":34,"w":1728,"a":409},{"k":34,"w":1700,"a":406},
{"k":35,"w":2200,"a":420},{"k":35,"w":2170,"a":423},{"k":35,"w":2140,"a":419},{"k":35,"w":2105,"a":422},{"k":35,"w":2075,"a":420},{"k":35,"w":2053,"a":424},{"k":35,"w":2042,"a":436},{"k":35,"w":2035,"a":457},{"k":35,"w":2028,"a":436},{"k":35,"w":2017,"a":424},{"k":35,"w":1980,"a":422},{"k":35,"w":1950,"a":418},{"k":35,"w":1920,"a":423},{"k":35,"w":1890,"a":420},{"k":35,"w":1860,"a":418},{"k":35,"w":1828,"a":423},{"k":35,"w":1808,"a":429},{"k":35,"w":1788,"a":423},{"k":35,"w":1755,"a":422},{"k":35,"w":1728,"a":419},{"k":35,"w":1700,"a":420},
{"k":36,"w":2200,"a":434},{"k":36,"w":2170,"a":431},{"k":36,"w":2140,"a":434},{"k":36,"w":2105,"a":429},{"k":36,"w":2075,"a":433},{"k":36,"w":2054,"a":436},{"k":36,"w":2043,"a":448},{"k":36,"w":2036,"a":469},{"k":36,"w":2029,"a":448},{"k":36,"w":2018,"a":436},{"k":36,"w":1980,"a":432},{"k":36,"w":1950,"a":435},{"k":36,"w":1920,"a":430},{"k":36,"w":1890,"a":433},{"k":36,"w":1860,"a":432},{"k":36,"w":1829,"a":435},{"k":36,"w":1809,"a":441},{"k":36,"w":1789,"a":435},{"k":36,"w":1755,"a":430},{"k":36,"w":1728,"a":435},{"k":36,"w":1700,"a":433},
{"k":37,"w":2200,"a":442},{"k":37,"w":2170,"a":445},{"k":37,"w":2140,"a":447},{"k":37,"w":2105,"a":444},{"k":37,"w":2075,"a":442},{"k":37,"w":2054,"a":448},{"k":37,"w":2043,"a":459},{"k":37,"w":2036,"a":480},{"k":37,"w":2029,"a":459},{"k":37,"w":2018,"a":448},{"k":37,"w":1980,"a":447},{"k":37,"w":1950,"a":444},{"k":37,"w":1920,"a":441},{"k":37,"w":1890,"a":446},{"k":37,"w":1860,"a":445},{"k":37,"w":1829,"a":447},{"k":37,"w":1809,"a":453},{"k":37,"w":1789,"a":447},{"k":37,"w":1755,"a":444},{"k":37,"w":1728,"a":446},{"k":37,"w":1700,"a":442},
{"k":38,"w":2200,"a":459},{"k":38,"w":2170,"a":456},{"k":38,"w":2140,"a":454},{"k":38,"w":2105,"a":458},{"k":38,"w":2075,"a":459},{"k":38,"w":2054,"a":460},{"k":38,"w":2043,"a":472},{"k":38,"w":2036,"a":493},{"k":38,"w":2029,"a":472},{"k":38,"w":2018,"a":460},{"k":38,"w":1980,"a":454},{"k":38,"w":1950,"a":458},{"k":38,"w":1920,"a":456},{"k":38,"w":1890,"a":454},{"k":38,"w":1860,"a":459},{"k":38,"w":1829,"a":459},{"k":38,"w":1809,"a":465},{"k":38,"w":1789,"a":459},{"k":38,"w":1755,"a":459},{"k":38,"w":1728,"a":456},{"k":38,"w":1700,"a":457},
{"k":39,"w":2200,"a":468},{"k":39,"w":2170,"a":465},{"k":39,"w":2140,"a":469},{"k":39,"w":2105,"a":471},{"k":39,"w":2075,"a":468},{"k":39,"w":2054,"a":472},{"k":39,"w":2043,"a":483},{"k":39,"w":2036,"a":504},{"k":39,"w":2029,"a":483},{"k":39,"w":2018,"a":472},{"k":39,"w":1980,"a":469},{"k":39,"w":1950,"a":471},{"k":39,"w":1920,"a":466},{"k":39,"w":1890,"a":468},{"k":39,"w":1860,"a":465},{"k":39,"w":1829,"a":471},{"k":39,"w":1809,"a":477},{"k":39,"w":1789,"a":471},{"k":39,"w":1755,"a":469},{"k":39,"w":1728,"a":465},{"k":39,"w":1700,"a":468},
{"k":40,"w":2200,"a":481},{"k":40,"w":2170,"a":482},{"k":40,"w":2140,"a":478},{"k":40,"w":2105,"a":480},{"k":40,"w":2075,"a":483},{"k":40,"w":2055,"a":484},{"k":40,"w":2044,"a":496},{"k":40,"w":2037,"a":517},{"k":40,"w":2030,"a":496},{"k":40,"w":2019,"a":484},{"k":40,"w":1980,"a":477},{"k":40,"w":1950,"a":480},{"k":40,"w":1920,"a":482},{"k":40,"w":1890,"a":483},{"k":40,"w":1860,"a":480},{"k":40,"w":1830,"a":482},{"k":40,"w":1810,"a":488},{"k":40,"w":1790,"a":482},{"k":40,"w":1755,"a":478},{"k":40,"w":1728,"a":481},{"k":40,"w":1700,"a":483},
{"k":41,"w":2200,"a":489},{"k":41,"w":2170,"a":492},{"k":41,"w":2140,"a":494},{"k":41,"w":2105,"a":491},{"k":41,"w":2075,"a":493},{"k":41,"w":2055,"a":496},{"k":41,"w":2044,"a":507},{"k":41,"w":2037,"a":528},{"k":41,"w":2030,"a":507},{"k":41,"w":2019,"a":496},{"k":41,"w":1980,"a":492},{"k":41,"w":1950,"a":490},{"k":41,"w":1920,"a":495},{"k":41,"w":1890,"a":491},{"k":41,"w":1860,"a":494},{"k":41,"w":1830,"a":494},{"k":41,"w":1810,"a":500},{"k":41,"w":1790,"a":494},{"k":41,"w":1755,"a":495},{"k":41,"w":1728,"a":493},{"k":41,"w":1700,"a":490},
{"k":42,"w":2200,"a":504},{"k":42,"w":2170,"a":507},{"k":42,"w":2140,"a":503},{"k":42,"w":2105,"a":506},{"k":42,"w":2075,"a":504},{"k":42,"w":2055,"a":508},{"k":42,"w":2044,"a":519},{"k":42,"w":2037,"a":540},{"k":42,"w":2030,"a":519},{"k":42,"w":2019,"a":508},{"k":42,"w":1980,"a":506},{"k":42,"w":1950,"a":502},{"k":42,"w":1920,"a":507},{"k":42,"w":1890,"a":504},{"k":42,"w":1860,"a":502},{"k":42,"w":1830,"a":506},{"k":42,"w":1810,"a":512},{"k":42,"w":1790,"a":506},{"k":42,"w":1755,"a":506},{"k":42,"w":1728,"a":503},{"k":42,"w":1700,"a":504},
{"k":43,"w":2200,"a":518},{"k":43,"w":2170,"a":515},{"k":43,"w":2140,"a":518},{"k":43,"w":2105,"a":513},{"k":43,"w":2075,"a":517},{"k":43,"w":2055,"a":520},{"k":43,"w":2044,"a":531},{"k":43,"w":2037,"a":551},{"k":43,"w":2030,"a":531},{"k":43,"w":2019,"a":520},{"k":43,"w":1980,"a":516},{"k":43,"w":1950,"a":519},{"k":43,"w":1920,"a":514},{"k":43,"w":1890,"a":517},{"k":43,"w":1860,"a":516},{"k":43,"w":1830,"a":518},{"k":43,"w":1810,"a":524},{"k":43,"w":1790,"a":518},{"k":43,"w":1755,"a":514},{"k":43,"w":1728,"a":519},{"k":43,"w":1700,"a":517},
{"k":44,"w":2200,"a":526},{"k":44,"w":2170,"a":529},{"k":44,"w":2140,"a":531},{"k":44,"w":2105,"a":528},{"k":44,"w":2075,"a":526},{"k":44,"w":2056,"a":532},{"k":44,"w":2045,"a":543},{"k":44,"w":2038,"a":563},{"k":44,"w":2031,"a":543},{"k":44,"w":2020,"a":532},{"k":44,"w":1980,"a":531},{"k":44,"w":1950,"a":528},{"k":44,"w":1920,"a":525},{"k":44,"w":1890,"a":530},{"k":44,"w":1860,"a":529},{"k":44,"w":1831,"a":530},{"k":44,"w":1811,"a":536},{"k":44,"w":1791,"a":530},{"k":44,"w":1755,"a":528},{"k":44,"w":1728,"a":530},{"k":44,"w":1700,"a":526},
{"k":45,"w":2200,"a":543},{"k":45,"w":2170,"a":540},{"k":45,"w":2140,"a":538},{"k":45,"w":2105,"a":542},{"k":45,"w":2075,"a":543},{"k":45,"w":2056,"a":543},{"k":45,"w":2045,"a":554},{"k":45,"w":2038,"a":574},{"k":45,"w":2031,"a":554},{"k":45,"w":2020,"a":543},{"k":45,"w":1980,"a":538},{"k":45,"w":1950,"a":542},{"k":45,"w":1920,"a":540},{"k":45,"w":1890,"a":538},{"k":45,"w":1860,"a":543},{"k":45,"w":1831,"a":542},{"k":45,"w":1811,"a":546},{"k":45,"w":1791,"a":542},{"k":45,"w":1755,"a":543},{"k":45,"w":1728,"a":540},{"k":45,"w":1700,"a":541},
{"k":46,"w":2200,"a":552},{"k":46,"w":2170,"a":549},{"k":46,"w":2140,"a":553},{"k":46,"w":2105,"a":555},{"k":46,"w":2075,"a":552},{"k":46,"w":2056,"a":555},{"k":46,"w":2045,"a":566},{"k":46,"w":2038,"a":585},{"k":46,"w":2031,"a":566},{"k":46,"w":2020,"a":555},{"k":46,"w":1980,"a":553},{"k":46,"w":1950,"a":555},{"k":46,"w":1920,"a":550},{"k":46,"w":1890,"a":552},{"k":46,"w":1860,"a":549},{"k":46,"w":1831,"a":554},{"k":46,"w":1811,"a":558},{"k":46,"w":1791,"a":554},{"k":46,"w":1755,"a":553},{"k":46,"w":1728,"a":549},{"k":46,"w":1700,"a":552},
{"k":47,"w":2200,"a":565},{"k":47,"w":2170,"a":566},{"k":47,"w":2140,"a":562},{"k":47,"w":2105,"a":564},{"k":47,"w":2075,"a":567},{"k":47,"w":2056,"a":567},{"k":47,"w":2045,"a":577},{"k":47,"w":2038,"a":596},{"k":47,"w":2031,"a":577},{"k":47,"w":2020,"a":567},{"k":47,"w":1980,"a":561},{"k":47,"w":1950,"a":564},{"k":47,"w":1920,"a":566},{"k":47,"w":1890,"a":567},{"k":47,"w":1860,"a":564},{"k":47,"w":1831,"a":566},{"k":47,"w":1811,"a":570},{"k":47,"w":1791,"a":566},{"k":47,"w":1755,"a":562},{"k":47,"w":1728,"a":565},{"k":47,"w":1700,"a":567},
{"k":48,"w":2200,"a":573},{"k":48,"w":2170,"a":576},{"k":48,"w":2140,"a":578},{"k":48,"w":2105,"a":575},{"k":48,"w":2075,"a":577},{"k":48,"w":2057,"a":579},{"k":48,"w":2046,"a":589},{"k":48,"w":2039,"a":607},{"k":48,"w":2032,"a":589},{"k":48,"w":2021,"a":579},{"k":48,"w":1980,"a":576},{"k":48,"w":1950,"a":574},{"k":48,"w":1920,"a":579},{"k":48,"w":1890,"a":575},{"k":48,"w":1860,"a":578},{"k":48,"w":1832,"a":578},{"k":48,"w":1812,"a":582},{"k":48,"w":1792,"a":578},{"k":48,"w":1755,"a":579},{"k":48,"w":1728,"a":577},{"k":48,"w":1700,"a":574},
{"k":49,"w":2200,"a":588},{"k":49,"w":2170,"a":591},{"k":49,"w":2140,"a":587},{"k":49,"w":2105,"a":590},{"k":49,"w":2075,"a":588},{"k":49,"w":2057,"a":591},{"k":49,"w":2046,"a":601},{"k":49,"w":2039,"a":618},{"k":49,"w":2032,"a":601},{"k":49,"w":2021,"a":591},{"k":49,"w":1980,"a":590},{"k":49,"w":1950,"a":586},{"k":49,"w":1920,"a":591},{"k":49,"w":1890,"a":588},{"k":49,"w":1860,"a":586},{"k":49,"w":1832,"a":590},{"k":49,"w":1812,"a":594},{"k":49,"w":1792,"a":590},{"k":49,"w":1755,"a":590},{"k":49,"w":1728,"a":587},{"k":49,"w":1700,"a":588},
{"k":50,"w":2200,"a":602},{"k":50,"w":2170,"a":599},{"k":50,"w":2140,"a":602},{"k":50,"w":2105,"a":597},{"k":50,"w":2075,"a":601},{"k":50,"w":2057,"a":603},{"k":50,"w":2046,"a":612},{"k":50,"w":2039,"a":628},{"k":50,"w":2032,"a":612},{"k":50,"w":2021,"a":603},{"k":50,"w":1980,"a":600},{"k":50,"w":1950,"a":603},{"k":50,"w":1920,"a":598},{"k":50,"w":1890,"a":601},{"k":50,"w":1860,"a":600},{"k":50,"w":1832,"a":601},{"k":50,"w":1812,"a":604},{"k":50,"w":1792,"a":601},{"k":50,"w":1755,"a":598},{"k":50,"w":1728,"a":603},{"k":50,"w":1700,"a":601},
{"k":51,"w":2200,"a":610},{"k":51,"w":2170,"a":613},{"k":51,"w":2140,"a":615},{"k":51,"w":2105,"a":612},{"k":51,"w":2075,"a":610},{"k":51,"w":2057,"a":615},{"k":51,"w":2046,"a":623},{"k":51,"w":2039,"a":638},{"k":51,"w":2032,"a":623},{"k":51,"w":2021,"a":615},{"k":51,"w":1980,"a":615},{"k":51,"w":1950,"a":612},{"k":51,"w":1920,"a":609},{"k":51,"w":1890,"a":614},{"k":51,"w":1860,"a":613},{"k":51,"w":1832,"a":613},{"k":51,"w":1812,"a":616},{"k":51,"w":1792,"a":613},{"k":51,"w":1755,"a":612},{"k":51,"w":1728,"a":614},{"k":51,"w":1700,"a":610},
{"k":52,"w":2200,"a":627},{"k":52,"w":2170,"a":624},{"k":52,"w":2140,"a":622},{"k":52,"w":2105,"a":626},{"k":52,"w":2075,"a":627},{"k":52,"w":2058,"a":626},{"k":52,"w":2047,"a":634},{"k":52,"w":2040,"a":648},{"k":52,"w":2033,"a":634},{"k":52,"w":2022,"a":626},{"k":52,"w":1980,"a":622},{"k":52,"w":1950,"a":626},{"k":52,"w":1920,"a":624},{"k":52,"w":1890,"a":622},{"k":52,"w":1860,"a":627},{"k":52,"w":1833,"a":625},{"k":52,"w":1813,"a":628},{"k":52,"w":1793,"a":625},{"k":52,"w":1755,"a":627},{"k":52,"w":1728,"a":624},{"k":52,"w":1700,"a":625},
{"k":53,"w":2200,"a":636},{"k":53,"w":2170,"a":633},{"k":53,"w":2140,"a":637},{"k":53,"w":2105,"a":639},{"k":53,"w":2075,"a":636},{"k":53,"w":2058,"a":638},{"k":53,"w":2047,"a":645},{"k":53,"w":2040,"a":658},{"k":53,"w":2033,"a":645},{"k":53,"w":2022,"a":638},{"k":53,"w":1980,"a":637},{"k":53,"w":1950,"a":639},{"k":53,"w":1920,"a":634},{"k":53,"w":1890,"a":636},{"k":53,"w":1860,"a":633},{"k":53,"w":1833,"a":637},{"k":53,"w":1813,"a":640},{"k":53,"w":1793,"a":637},{"k":53,"w":1755,"a":637},{"k":53,"w":1728,"a":633},{"k":53,"w":1700,"a":636},
{"k":54,"w":2200,"a":649},{"k":54,"w":2170,"a":650},{"k":54,"w":2140,"a":646},{"k":54,"w":2105,"a":648},{"k":54,"w":2075,"a":651},{"k":54,"w":2058,"a":650},{"k":54,"w":2047,"a":656},{"k":54,"w":2040,"a":668},{"k":54,"w":2033,"a":656},{"k":54,"w":2022,"a":650},{"k":54,"w":1980,"a":645},{"k":54,"w":1950,"a":648},{"k":54,"w":1920,"a":650},{"k":54,"w":1890,"a":651},{"k":54,"w":1860,"a":648},{"k":54,"w":1833,"a":649},{"k":54,"w":1813,"a":652},{"k":54,"w":1793,"a":649},{"k":54,"w":1755,"a":646},{"k":54,"w":1728,"a":649},{"k":54,"w":1700,"a":651},
{"k":55,"w":2200,"a":657},{"k":55,"w":2170,"a":660},{"k":55,"w":2140,"a":662},{"k":55,"w":2105,"a":659},{"k":55,"w":2075,"a":661},{"k":55,"w":2058,"a":662},{"k":55,"w":2047,"a":668},{"k":55,"w":2040,"a":678},{"k":55,"w":2033,"a":668},{"k":55,"w":2022,"a":662},{"k":55,"w":1980,"a":660},{"k":55,"w":1950,"a":658},{"k":55,"w":1920,"a":663},{"k":55,"w":1890,"a":659},{"k":55,"w":1860,"a":662},{"k":55,"w":1834,"a":661},{"k":55,"w":1814,"a":662},{"k":55,"w":1794,"a":659},{"k":55,"w":1755,"a":663},{"k":55,"w":1728,"a":661},{"k":55,"w":1700,"a":658},
{"k":56,"w":2200,"a":672},{"k":56,"w":2170,"a":675},{"k":56,"w":2140,"a":671},{"k":56,"w":2105,"a":674},{"k":56,"w":2075,"a":672},{"k":56,"w":2058,"a":674},{"k":56,"w":2047,"a":679},{"k":56,"w":2040,"a":689},{"k":56,"w":2033,"a":679},{"k":56,"w":2022,"a":674},{"k":56,"w":1980,"a":674},{"k":56,"w":1950,"a":670},{"k":56,"w":1920,"a":675},{"k":56,"w":1890,"a":672},{"k":56,"w":1860,"a":670},{"k":56,"w":1834,"a":673},{"k":56,"w":1814,"a":671},{"k":56,"w":1794,"a":674},{"k":56,"w":1755,"a":674},{"k":56,"w":1728,"a":671},{"k":56,"w":1700,"a":672},
{"k":57,"w":2200,"a":686},{"k":57,"w":2170,"a":683},{"k":57,"w":2140,"a":686},{"k":57,"w":2105,"a":681},{"k":57,"w":2075,"a":685},{"k":57,"w":2058,"a":686},{"k":57,"w":2047,"a":691},{"k":57,"w":2040,"a":700},{"k":57,"w":2033,"a":691},{"k":57,"w":2022,"a":686},{"k":57,"w":1980,"a":684},{"k":57,"w":1950,"a":687},{"k":57,"w":1920,"a":682},{"k":57,"w":1890,"a":685},{"k":57,"w":1860,"a":684},{"k":57,"w":1834,"a":683},{"k":57,"w":1814,"a":686},{"k":57,"w":1794,"a":684},{"k":57,"w":1755,"a":682},{"k":57,"w":1728,"a":687},{"k":57,"w":1700,"a":685},
{"k":58,"w":2200,"a":694},{"k":58,"w":2170,"a":697},{"k":58,"w":2140,"a":699},{"k":58,"w":2105,"a":696},{"k":58,"w":2075,"a":694},{"k":58,"w":2058,"a":698},{"k":58,"w":2047,"a":702},{"k":58,"w":2040,"a":711},{"k":58,"w":2033,"a":702},{"k":58,"w":2022,"a":698},{"k":58,"w":1980,"a":699},{"k":58,"w":1950,"a":696},{"k":58,"w":1920,"a":693},{"k":58,"w":1890,"a":698},{"k":58,"w":1860,"a":697},{"k":58,"w":1834,"a":698},{"k":58,"w":1814,"a":696},{"k":58,"w":1794,"a":694},{"k":58,"w":1755,"a":696},{"k":58,"w":1728,"a":698},{"k":58,"w":1700,"a":694},
{"k":59,"w":2200,"a":711},{"k":59,"w":2170,"a":708},{"k":59,"w":2140,"a":706},{"k":59,"w":2105,"a":710},{"k":59,"w":2075,"a":711},{"k":59,"w":2058,"a":709},{"k":59,"w":2047,"a":714},{"k":59,"w":2040,"a":722},{"k":59,"w":2033,"a":714},{"k":59,"w":2022,"a":709},{"k":59,"w":1980,"a":706},{"k":59,"w":1950,"a":710},{"k":59,"w":1920,"a":708},{"k":59,"w":1890,"a":706},{"k":59,"w":1860,"a":711},{"k":59,"w":1834,"a":708},{"k":59,"w":1814,"a":706},{"k":59,"w":1794,"a":709},{"k":59,"w":1755,"a":711},{"k":59,"w":1728,"a":708},{"k":59,"w":1700,"a":709},
{"k":60,"w":2200,"a":720},{"k":60,"w":2170,"a":717},{"k":60,"w":2140,"a":721},{"k":60,"w":2105,"a":723},{"k":60,"w":2075,"a":720},{"k":60,"w":2058,"a":721},{"k":60,"w":2047,"a":725},{"k":60,"w":2040,"a":733},{"k":60,"w":2033,"a":725},{"k":60,"w":2022,"a":721},{"k":60,"w":1980,"a":721},{"k":60,"w":1950,"a":723},{"k":60,"w":1920,"a":718},{"k":60,"w":1890,"a":720},{"k":60,"w":1860,"a":717},{"k":60,"w":1834,"a":718},{"k":60,"w":1814,"a":721},{"k":60,"w":1794,"a":722},{"k":60,"w":1755,"a":721},{"k":60,"w":1728,"a":717},{"k":60,"w":1700,"a":720},
{"k":61,"w":2200,"a":733},{"k":61,"w":2170,"a":734},{"k":61,"w":2140,"a":730},{"k":61,"w":2105,"a":732},{"k":61,"w":2075,"a":735},{"k":61,"w":2058,"a":733},{"k":61,"w":2047,"a":737},{"k":61,"w":2040,"a":744},{"k":61,"w":2033,"a":737},{"k":61,"w":2022,"a":733},{"k":61,"w":1980,"a":729},{"k":61,"w":1950,"a":732},{"k":61,"w":1920,"a":734},{"k":61,"w":1890,"a":735},{"k":61,"w":1860,"a":732},{"k":61,"w":1834,"a":734},{"k":61,"w":1814,"a":731},{"k":61,"w":1794,"a":732},{"k":61,"w":1755,"a":730},{"k":61,"w":1728,"a":733},{"k":61,"w":1700,"a":735},
{"k":62,"w":2200,"a":741},{"k":62,"w":2170,"a":744},{"k":62,"w":2140,"a":746},{"k":62,"w":2105,"a":743},{"k":62,"w":2075,"a":745},{"k":62,"w":2058,"a":745},{"k":62,"w":2047,"a":749},{"k":62,"w":2040,"a":756},{"k":62,"w":2033,"a":749},{"k":62,"w":2022,"a":745},{"k":62,"w":1980,"a":744},{"k":62,"w":1950,"a":742},{"k":62,"w":1920,"a":747},{"k":62,"w":1890,"a":743},{"k":62,"w":1860,"a":746},{"k":62,"w":1834,"a":745},{"k":62,"w":1814,"a":746},{"k":62,"w":1794,"a":743},{"k":62,"w":1755,"a":747},{"k":62,"w":1728,"a":745},{"k":62,"w":1700,"a":742},
{"k":63,"w":2200,"a":756},{"k":63,"w":2170,"a":759},{"k":63,"w":2140,"a":755},{"k":63,"w":2105,"a":758},{"k":63,"w":2075,"a":756},{"k":63,"w":2058,"a":757},{"k":63,"w":2047,"a":761},{"k":63,"w":2040,"a":767},{"k":63,"w":2033,"a":761},{"k":63,"w":2022,"a":757},{"k":63,"w":1980,"a":758},{"k":63,"w":1950,"a":754},{"k":63,"w":1920,"a":759},{"k":63,"w":1890,"a":756},{"k":63,"w":1860,"a":754},{"k":63,"w":1834,"a":757},{"k":63,"w":1814,"a":755},{"k":63,"w":1794,"a":758},{"k":63,"w":1755,"a":758},{"k":63,"w":1728,"a":755},{"k":63,"w":1700,"a":756},
{"k":64,"w":2200,"a":770},{"k":64,"w":2170,"a":767},{"k":64,"w":2140,"a":770},{"k":64,"w":2105,"a":765},{"k":64,"w":2075,"a":769},{"k":64,"w":2058,"a":769},{"k":64,"w":2047,"a":773},{"k":64,"w":2040,"a":779},{"k":64,"w":2033,"a":773},{"k":64,"w":2022,"a":769},{"k":64,"w":1980,"a":768},{"k":64,"w":1950,"a":771},{"k":64,"w":1920,"a":766},{"k":64,"w":1890,"a":769},{"k":64,"w":1860,"a":768},{"k":64,"w":1834,"a":767},{"k":64,"w":1814,"a":770},{"k":64,"w":1794,"a":768},{"k":64,"w":1755,"a":766},{"k":64,"w":1728,"a":771},{"k":64,"w":1700,"a":769},
{"k":65,"w":2200,"a":778},{"k":65,"w":2170,"a":781},{"k":65,"w":2140,"a":783},{"k":65,"w":2105,"a":780},{"k":65,"w":2075,"a":778},{"k":65,"w":2058,"a":781},{"k":65,"w":2047,"a":784},{"k":65,"w":2040,"a":790},{"k":65,"w":2033,"a":784},{"k":65,"w":2022,"a":781},{"k":65,"w":1980,"a":783},{"k":65,"w":1950,"a":780},{"k":65,"w":1920,"a":777},{"k":65,"w":1890,"a":782},{"k":65,"w":1860,"a":781},{"k":65,"w":1834,"a":782},{"k":65,"w":1814,"a":780},{"k":65,"w":1794,"a":778},{"k":65,"w":1755,"a":780},{"k":65,"w":1728,"a":782},{"k":65,"w":1700,"a":778},
{"k":66,"w":2200,"a":795},{"k":66,"w":2170,"a":792},{"k":66,"w":2140,"a":790},{"k":66,"w":2105,"a":794},{"k":66,"w":2075,"a":795},{"k":66,"w":2058,"a":793},{"k":66,"w":2047,"a":796},{"k":66,"w":2040,"a":802},{"k":66,"w":2033,"a":796},{"k":66,"w":2022,"a":793},{"k":66,"w":1980,"a":790},{"k":66,"w":1950,"a":794},{"k":66,"w":1920,"a":792},{"k":66,"w":1890,"a":790},{"k":66,"w":1860,"a":795},{"k":66,"w":1834,"a":792},{"k":66,"w":1814,"a":790},{"k":66,"w":1794,"a":793},{"k":66,"w":1755,"a":795},{"k":66,"w":1728,"a":792},{"k":66,"w":1700,"a":793},
{"k":67,"w":2200,"a":804},{"k":67,"w":2170,"a":801},{"k":67,"w":2140,"a":805},{"k":67,"w":2105,"a":807},{"k":67,"w":2075,"a":804},{"k":67,"w":2058,"a":805},{"k":67,"w":2047,"a":808},{"k":67,"w":2040,"a":813},{"k":67,"w":2033,"a":808},{"k":67,"w":2022,"a":805},{"k":67,"w":1980,"a":805},{"k":67,"w":1950,"a":807},{"k":67,"w":1920,"a":802},{"k":67,"w":1890,"a":804},{"k":67,"w":1860,"a":801},{"k":67,"w":1834,"a":802},{"k":67,"w":1814,"a":805},{"k":67,"w":1794,"a":806},{"k":67,"w":1755,"a":805},{"k":67,"w":1728,"a":801},{"k":67,"w":1700,"a":804},
{"k":68,"w":2200,"a":817},{"k":68,"w":2170,"a":818},{"k":68,"w":2140,"a":814},{"k":68,"w":2105,"a":816},{"k":68,"w":2075,"a":819},{"k":68,"w":2058,"a":817},{"k":68,"w":2047,"a":820},{"k":68,"w":2040,"a":825},{"k":68,"w":2033,"a":820},{"k":68,"w":2022,"a":817},{"k":68,"w":1980,"a":813},{"k":68,"w":1950,"a":816},{"k":68,"w":1920,"a":818},{"k":68,"w":1890,"a":819},{"k":68,"w":1860,"a":816},{"k":68,"w":1834,"a":818},{"k":68,"w":1814,"a":815},{"k":68,"w":1794,"a":816},{"k":68,"w":1755,"a":814},{"k":68,"w":1728,"a":817},{"k":68,"w":1700,"a":819},
{"k":69,"w":2200,"a":825},{"k":69,"w":2170,"a":828},{"k":69,"w":2140,"a":830},{"k":69,"w":2105,"a":827},{"k":69,"w":2075,"a":829},{"k":69,"w":2058,"a":829},{"k":69,"w":2047,"a":832},{"k":69,"w":2040,"a":837},{"k":69,"w":2033,"a":832},{"k":69,"w":2022,"a":829},{"k":69,"w":1980,"a":828},{"k":69,"w":1950,"a":826},{"k":69,"w":1920,"a":831},{"k":69,"w":1890,"a":827},{"k":69,"w":1860,"a":830},{"k":69,"w":1834,"a":829},{"k":69,"w":1814,"a":830},{"k":69,"w":1794,"a":827},{"k":69,"w":1755,"a":831},{"k":69,"w":1728,"a":829},{"k":69,"w":1700,"a":826},
{"k":70,"w":2200,"a":840},{"k":70,"w":2170,"a":843},{"k":70,"w":2140,"a":839},{"k":70,"w":2105,"a":842},{"k":70,"w":2075,"a":840},{"k":70,"w":2058,"a":841},{"k":70,"w":2047,"a":843},{"k":70,"w":2040,"a":848},{"k":70,"w":2033,"a":843},{"k":70,"w":2022,"a":841},{"k":70,"w":1980,"a":842},{"k":70,"w":1950,"a":838},{"k":70,"w":1920,"a":843},{"k":70,"w":1890,"a":840},{"k":70,"w":1860,"a":838},{"k":70,"w":1834,"a":841},{"k":70,"w":1814,"a":839},{"k":70,"w":1794,"a":842},{"k":70,"w":1755,"a":842},{"k":70,"w":1728,"a":839},{"k":70,"w":1700,"a":840},
{"k":71,"w":2200,"a":854},{"k":71,"w":2170,"a":851},{"k":71,"w":2140,"a":854},{"k":71,"w":2105,"a":849},{"k":71,"w":2075,"a":853},{"k":71,"w":2058,"a":853},{"k":71,"w":2047,"a":855},{"k":71,"w":2040,"a":860},{"k":71,"w":2033,"a":855},{"k":71,"w":2022,"a":853},{"k":71,"w":1980,"a":852},{"k":71,"w":1950,"a":855},{"k":71,"w":1920,"a":850},{"k":71,"w":1890,"a":853},{"k":71,"w":1860,"a":852},{"k":71,"w":1834,"a":851},{"k":71,"w":1814,"a":854},{"k":71,"w":1794,"a":852},{"k":71,"w":1755,"a":850},{"k":71,"w":1728,"a":855},{"k":71,"w":1700,"a":853},
{"k":72,"w":2200,"a":862},{"k":72,"w":2170,"a":865},{"k":72,"w":2140,"a":867},{"k":72,"w":2105,"a":864},{"k":72,"w":2075,"a":862},{"k":72,"w":2058,"a":865},{"k":72,"w":2047,"a":867},{"k":72,"w":2040,"a":872},{"k":72,"w":2033,"a":867},{"k":72,"w":2022,"a":865},{"k":72,"w":1980,"a":867},{"k":72,"w":1950,"a":864},{"k":72,"w":1920,"a":861},{"k":72,"w":1890,"a":866},{"k":72,"w":1860,"a":865},{"k":72,"w":1834,"a":866},{"k":72,"w":1814,"a":864},{"k":72,"w":1794,"a":862},{"k":72,"w":1755,"a":864},{"k":72,"w":1728,"a":866},{"k":72,"w":1700,"a":862},
{"k":73,"w":2200,"a":879},{"k":73,"w":2170,"a":876},{"k":73,"w":2140,"a":874},{"k":73,"w":2105,"a":878},{"k":73,"w":2075,"a":879},{"k":73,"w":2058,"a":877},{"k":73,"w":2047,"a":879},{"k":73,"w":2040,"a":883},{"k":73,"w":2033,"a":879},{"k":73,"w":2022,"a":877},{"k":73,"w":1980,"a":874},{"k":73,"w":1950,"a":878},{"k":73,"w":1920,"a":876},{"k":73,"w":1890,"a":874},{"k":73,"w":1860,"a":879},{"k":73,"w":1834,"a":876},{"k":73,"w":1814,"a":874},{"k":73,"w":1794,"a":877},{"k":73,"w":1755,"a":879},{"k":73,"w":1728,"a":876},{"k":73,"w":1700,"a":877},
{"k":74,"w":2200,"a":888},{"k":74,"w":2170,"a":885},{"k":74,"w":2140,"a":889},{"k":74,"w":2105,"a":891},{"k":74,"w":2075,"a":888},{"k":74,"w":2058,"a":889},{"k":74,"w":2047,"a":891},{"k":74,"w":2040,"a":895},{"k":74,"w":2033,"a":891},{"k":74,"w":2022,"a":889},{"k":74,"w":1980,"a":889},{"k":74,"w":1950,"a":891},{"k":74,"w":1920,"a":886},{"k":74,"w":1890,"a":888},{"k":74,"w":1860,"a":885},{"k":74,"w":1834,"a":886},{"k":74,"w":1814,"a":889},{"k":74,"w":1794,"a":890},{"k":74,"w":1755,"a":889},{"k":74,"w":1728,"a":885},{"k":74,"w":1700,"a":888},
{"k":75,"w":2200,"a":901},{"k":75,"w":2170,"a":902},{"k":75,"w":2140,"a":898},{"k":75,"w":2105,"a":900},{"k":75,"w":2075,"a":903},{"k":75,"w":2058,"a":901},{"k":75,"w":2047,"a":903},{"k":75,"w":2040,"a":907},{"k":75,"w":2033,"a":903},{"k":75,"w":2022,"a":901},{"k":75,"w":1980,"a":897},{"k":75,"w":1950,"a":900},{"k":75,"w":1920,"a":902},{"k":75,"w":1890,"a":903},{"k":75,"w":1860,"a":900},{"k":75,"w":1834,"a":902},{"k":75,"w":1814,"a":899},{"k":75,"w":1794,"a":900},{"k":75,"w":1755,"a":898},{"k":75,"w":1728,"a":901},{"k":75,"w":1700,"a":903},
{"k":76,"w":2200,"a":909},{"k":76,"w":2170,"a":912},{"k":76,"w":2140,"a":914},{"k":76,"w":2105,"a":911},{"k":76,"w":2075,"a":913},{"k":76,"w":2058,"a":913},{"k":76,"w":2047,"a":915},{"k":76,"w":2040,"a":919},{"k":76,"w":2033,"a":915},{"k":76,"w":2022,"a":913},{"k":76,"w":1980,"a":912},{"k":76,"w":1950,"a":910},{"k":76,"w":1920,"a":915},{"k":76,"w":1890,"a":911},{"k":76,"w":1860,"a":914},{"k":76,"w":1834,"a":913},{"k":76,"w":1814,"a":914},{"k":76,"w":1794,"a":911},{"k":76,"w":1755,"a":915},{"k":76,"w":1728,"a":913},{"k":76,"w":1700,"a":910},
{"k":77,"w":2200,"a":924},{"k":77,"w":2170,"a":927},{"k":77,"w":2140,"a":923},{"k":77,"w":2105,"a":926},{"k":77,"w":2075,"a":924},{"k":77,"w":2058,"a":925},{"k":77,"w":2047,"a":927},{"k":77,"w":2040,"a":930},{"k":77,"w":2033,"a":927},{"k":77,"w":2022,"a":925},{"k":77,"w":1980,"a":926},{"k":77,"w":1950,"a":922},{"k":77,"w":1920,"a":927},{"k":77,"w":1890,"a":924},{"k":77,"w":1860,"a":922},{"k":77,"w":1834,"a":925},{"k":77,"w":1814,"a":923},{"k":77,"w":1794,"a":926},{"k":77,"w":1755,"a":926},{"k":77,"w":1728,"a":923},{"k":77,"w":1700,"a":924},
{"k":78,"w":2200,"a":938},{"k":78,"w":2170,"a":935},{"k":78,"w":2140,"a":938},{"k":78,"w":2105,"a":933},{"k":78,"w":2075,"a":937},{"k":78,"w":2058,"a":937},{"k":78,"w":2047,"a":939},{"k":78,"w":2040,"a":942},{"k":78,"w":2033,"a":939},{"k":78,"w":2022,"a":937},{"k":78,"w":1980,"a":936},{"k":78,"w":1950,"a":939},{"k":78,"w":1920,"a":934},{"k":78,"w":1890,"a":937},{"k":78,"w":1860,"a":936},{"k":78,"w":1834,"a":935},{"k":78,"w":1814,"a":938},{"k":78,"w":1794,"a":936},{"k":78,"w":1755,"a":934},{"k":78,"w":1728,"a":939},{"k":78,"w":1700,"a":937},
{"k":79,"w":2200,"a":946},{"k":79,"w":2170,"a":949},{"k":79,"w":2140,"a":951},{"k":79,"w":2105,"a":948},{"k":79,"w":2075,"a":946},{"k":79,"w":2058,"a":949},{"k":79,"w":2047,"a":951},{"k":79,"w":2040,"a":954},{"k":79,"w":2033,"a":951},{"k":79,"w":2022,"a":949},{"k":79,"w":1980,"a":951},{"k":79,"w":1950,"a":948},{"k":79,"w":1920,"a":945},{"k":79,"w":1890,"a":950},{"k":79,"w":1860,"a":949},{"k":79,"w":1834,"a":950},{"k":79,"w":1814,"a":948},{"k":79,"w":1794,"a":946},{"k":79,"w":1755,"a":948},{"k":79,"w":1728,"a":950},{"k":79,"w":1700,"a":946},
{"k":80,"w":2200,"a":963},{"k":80,"w":2170,"a":960},{"k":80,"w":2140,"a":958},{"k":80,"w":2105,"a":962},{"k":80,"w":2075,"a":963},{"k":80,"w":2058,"a":961},{"k":80,"w":2047,"a":963},{"k":80,"w":2040,"a":966},{"k":80,"w":2033,"a":963},{"k":80,"w":2022,"a":961},{"k":80,"w":1980,"a":958},{"k":80,"w":1950,"a":962},{"k":80,"w":1920,"a":960},{"k":80,"w":1890,"a":958},{"k":80,"w":1860,"a":963},{"k":80,"w":1834,"a":960},{"k":80,"w":1814,"a":958},{"k":80,"w":1794,"a":961},{"k":80,"w":1755,"a":963},{"k":80,"w":1728,"a":960},{"k":80,"w":1700,"a":961}
  ]},
  "mark": {"type": "line", "color": "#111", "strokeWidth": 1.5, "interpolate": "monotone"},
  "encoding": {
   "x": {"field": "w", "type": "quantitative", "scale": {"domain": [1700, 2200], "reverse": true, "nice": false, "zero": false}, "axis": {"orient": "bottom", "values": [2200, 2000, 1800], "format": "d", "tickSize": -10, "labelPadding": 25, "title": "ν / cm⁻¹", "titlePadding": 6}},
   "y": {"field": "a", "type": "quantitative", "scale": {"domain": [-12, 1082], "nice": false, "zero": false}, "axis": null},
   "detail": {"field": "k", "type": "nominal"}
  }
 },
 {
  "data": {"values": [{"t":"0.9 V","w":1693,"a":961},{"t":"0.1 V","w":1693,"a":14}]},
  "mark": {"type": "text", "fontSize": 31, "align": "left", "baseline": "middle"},
  "encoding": {
   "x": {"field": "w", "type": "quantitative", "scale": {"domain": [1700, 2200], "reverse": true, "nice": false, "zero": false}, "axis": {"orient": "bottom", "values": [2100, 1900], "tickSize": -6, "labels": false, "title": null}},
   "y": {"field": "a", "type": "quantitative", "scale": {"domain": [-12, 1082], "nice": false, "zero": false}, "axis": null},
   "text": {"field": "t"}
  }
 },
 {
  "data": {"values": [{"w":2077,"a":1001,"a2":1051}]},
  "mark": {"type": "rule", "color": "black", "strokeWidth": 1.5},
  "encoding": {
   "x": {"field": "w", "type": "quantitative", "scale": {"domain": [1700, 2200], "reverse": true, "nice": false, "zero": false}, "axis": {"orient": "top", "values": [2000, 1800], "tickSize": -10, "labels": false, "title": null}},
   "y": {"field": "a", "type": "quantitative", "scale": {"domain": [-12, 1082], "nice": false, "zero": false}, "axis": null},
   "y2": {"field": "a2"}
  }
 },
 {
  "data": {"values": [{"w":2083,"w2":2071,"a":1001},{"w":2083,"w2":2071,"a":1051}]},
  "mark": {"type": "rule", "color": "black", "strokeWidth": 1.5},
  "encoding": {
   "x": {"field": "w", "type": "quantitative", "scale": {"domain": [1700, 2200], "reverse": true, "nice": false, "zero": false}, "axis": {"orient": "top", "values": [2100, 1900], "tickSize": -6, "labels": false, "title": null}},
   "x2": {"field": "w2"},
   "y": {"field": "a", "type": "quantitative", "scale": {"domain": [-12, 1082], "nice": false, "zero": false}, "axis": null}
  }
 },
 {
  "data": {"values": [{"t":"0.005","w":2066,"a":1026}]},
  "mark": {"type": "text", "fontSize": 21, "align": "left", "baseline": "middle"},
  "encoding": {
   "x": {"field": "w", "type": "quantitative", "scale": {"domain": [1700, 2200], "reverse": true, "nice": false, "zero": false}, "axis": null},
   "y": {"field": "a", "type": "quantitative", "scale": {"domain": [-12, 1082], "nice": false, "zero": false}, "axis": null},
   "text": {"field": "t"}
  }
 },
 {
  "data": {"values": [{"w":1675,"a":95,"a2":870}]},
  "mark": {"type": "rule", "color": "black", "strokeWidth": 2},
  "encoding": {
   "x": {"field": "w", "type": "quantitative", "scale": {"domain": [1700, 2200], "reverse": true, "nice": false, "zero": false}, "axis": null},
   "y": {"field": "a", "type": "quantitative", "scale": {"domain": [-12, 1082], "nice": false, "zero": false}, "axis": null},
   "y2": {"field": "a2"}
  }
 },
 {
  "data": {"values": [{"w":1675,"a":874}]},
  "mark": {"type": "point", "shape": "triangle-up", "filled": true, "color": "black", "size": 110, "opacity": 1},
  "encoding": {
   "x": {"field": "w", "type": "quantitative", "scale": {"domain": [1700, 2200], "reverse": true, "nice": false, "zero": false}, "axis": null},
   "y": {"field": "a", "type": "quantitative", "scale": {"domain": [-12, 1082], "nice": false, "zero": false}, "axis": null}
  }
 },
 {
  "data": {"values": [{"w":2200,"w2":2141.5,"a":1082,"a2":989}]},
  "mark": {"type": "rect", "fill": "white", "stroke": "black", "strokeWidth": 1.5},
  "encoding": {
   "x": {"field": "w", "type": "quantitative", "scale": {"domain": [1700, 2200], "reverse": true, "nice": false, "zero": false}, "axis": null},
   "x2": {"field": "w2"},
   "y": {"field": "a", "type": "quantitative", "scale": {"domain": [-12, 1082], "nice": false, "zero": false}, "axis": null},
   "y2": {"field": "a2"}
  }
 },
 {
  "data": {"values": [{"t":"B","w":2170.7,"a":1035.5}]},
  "mark": {"type": "text", "fontSize": 52, "fontWeight": "bold", "align": "center", "baseline": "middle"},
  "encoding": {
   "x": {"field": "w", "type": "quantitative", "scale": {"domain": [1700, 2200], "reverse": true, "nice": false, "zero": false}, "axis": null},
   "y": {"field": "a", "type": "quantitative", "scale": {"domain": [-12, 1082], "nice": false, "zero": false}, "axis": null},
   "text": {"field": "t"}
  }
 },
 {
  "data": {"values": [{"t":"E","w":1647,"a":334}]},
  "mark": {"type": "text", "font": "DejaVu Sans", "fontSize": 30, "fontWeight": "bold", "fontStyle": "italic", "angle": 270, "align": "left", "baseline": "middle"},
  "encoding": {
   "x": {"field": "w", "type": "quantitative", "scale": {"domain": [1700, 2200], "reverse": true, "nice": false, "zero": false}, "axis": null},
   "y": {"field": "a", "type": "quantitative", "scale": {"domain": [-12, 1082], "nice": false, "zero": false}, "axis": null},
   "text": {"field": "t"}
  }
 },
 {
  "data": {"values": [{"t":"/V vs. RHE","w":1647,"a":379}]},
  "mark": {"type": "text", "font": "DejaVu Sans", "fontSize": 30, "fontWeight": "bold", "angle": 270, "align": "left", "baseline": "middle"},
  "encoding": {
   "x": {"field": "w", "type": "quantitative", "scale": {"domain": [1700, 2200], "reverse": true, "nice": false, "zero": false}, "axis": null},
   "y": {"field": "a", "type": "quantitative", "scale": {"domain": [-12, 1082], "nice": false, "zero": false}, "axis": null},
   "text": {"field": "t"}
  }
 }
 ]
}
]
}
